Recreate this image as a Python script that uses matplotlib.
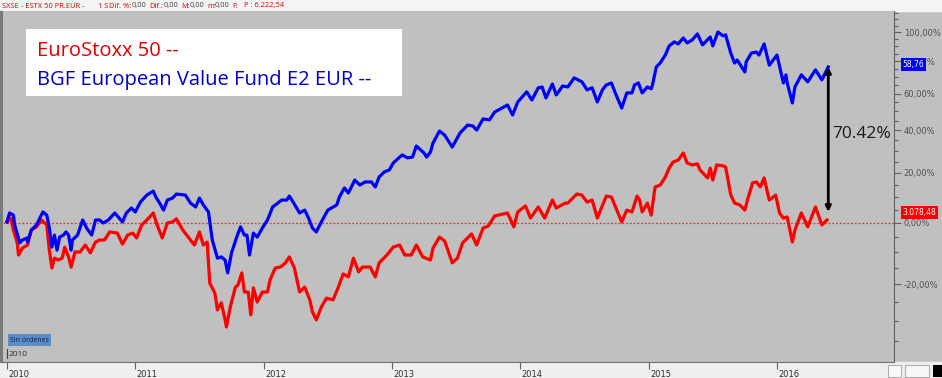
import matplotlib
matplotlib.use("Agg")
import matplotlib.pyplot as plt
from matplotlib.patches import Rectangle
from matplotlib.lines import Line2D
from matplotlib.ticker import FixedLocator, FixedFormatter, NullFormatter
import matplotlib.transforms as mtransforms

W, H = 942, 378

# weekly closes: decimal year / % change since start
fund_t = [2010.00, 2010.02, 2010.05, 2010.06, 2010.10, 2010.12, 2010.16, 2010.16, 2010.19, 2010.23,
          2010.28, 2010.31, 2010.33, 2010.35, 2010.37, 2010.39, 2010.41, 2010.44, 2010.46, 2010.48,
          2010.50, 2010.51, 2010.55, 2010.59, 2010.62, 2010.66, 2010.69, 2010.72, 2010.75, 2010.79,
          2010.84, 2010.90, 2010.93, 2010.97, 2011.00, 2011.04, 2011.09, 2011.14, 2011.16, 2011.19,
          2011.22, 2011.25, 2011.29, 2011.32, 2011.39, 2011.43, 2011.47, 2011.50, 2011.53, 2011.57,
          2011.60, 2011.64, 2011.67, 2011.70, 2011.72, 2011.75, 2011.79, 2011.82, 2011.85, 2011.87,
          2011.89, 2011.92, 2011.95, 2011.99, 2012.03, 2012.07, 2012.11, 2012.14, 2012.18, 2012.20,
          2012.23, 2012.28, 2012.32, 2012.35, 2012.38, 2012.41, 2012.45, 2012.50, 2012.57, 2012.59,
          2012.63, 2012.66, 2012.71, 2012.75, 2012.79, 2012.84, 2012.87, 2012.90, 2012.94, 2012.98,
          2013.01, 2013.08, 2013.12, 2013.16, 2013.19, 2013.25, 2013.27, 2013.30, 2013.32, 2013.37,
          2013.41, 2013.47, 2013.53, 2013.59, 2013.63, 2013.66, 2013.71, 2013.76, 2013.80, 2013.90,
          2013.94, 2013.98, 2014.05, 2014.09, 2014.14, 2014.17, 2014.20, 2014.25, 2014.28, 2014.33,
          2014.37, 2014.42, 2014.48, 2014.52, 2014.56, 2014.60, 2014.64, 2014.67, 2014.71, 2014.74,
          2014.79, 2014.83, 2014.87, 2014.89, 2014.92, 2014.95, 2014.99, 2015.02, 2015.03, 2015.06,
          2015.09, 2015.13, 2015.16, 2015.20, 2015.23, 2015.27, 2015.30, 2015.34, 2015.38, 2015.42,
          2015.48, 2015.50, 2015.54, 2015.58, 2015.60, 2015.64, 2015.67, 2015.69, 2015.75, 2015.76,
          2015.80, 2015.84, 2015.86, 2015.90, 2015.94, 2016.00, 2016.05, 2016.07, 2016.08, 2016.12,
          2016.14, 2016.19, 2016.24, 2016.30, 2016.35, 2016.40]
fund_pct = [0.4, 3.7, 2.9, -0.7, -7.0, -6.0, -5.3, -6.7, -2.5, -0.7,
            4.1, 2.9, -1.8, -8.4, -4.3, -9.4, -5.0, -4.3, -3.2, -4.3,
            -9.4, -6.0, -4.3, 1.1, -1.8, -4.3, 1.1, 1.1, 0.0, 1.1,
            3.7, 0.4, 3.7, 5.6, 4.1, 7.9, 10.7, 12.3, 9.9, 7.5,
            4.8, 8.7, 9.5, 11.1, 10.7, 7.5, 6.0, 9.5, 6.8, 4.1,
            -6.0, -12.0, -11.6, -12.6, -16.6, -10.3, -5.0, -1.4, -4.3, -4.3,
            -11.0, -3.6, -5.0, -1.8, 1.1, 6.0, 7.5, 8.7, 8.7, 10.3,
            7.9, 3.7, 4.8, 1.8, -1.8, -3.2, 0.4, 4.8, 6.8, 9.9,
            13.6, 11.5, 16.9, 14.8, 16.1, 16.1, 14.0, 18.2, 20.4, 21.3,
            24.4, 28.1, 26.7, 27.1, 32.3, 29.0, 27.1, 29.5, 33.8, 39.7,
            37.7, 31.8, 38.7, 42.8, 42.3, 40.2, 46.0, 45.5, 49.7, 53.6,
            48.1, 55.3, 61.1, 56.4, 63.5, 64.0, 57.6, 65.8, 59.3, 64.6,
            64.0, 69.5, 67.1, 62.3, 63.5, 55.3, 62.3, 65.2, 66.4, 60.5,
            51.9, 60.5, 60.5, 65.2, 66.4, 60.5, 64.0, 62.9, 65.2, 76.4,
            78.9, 84.2, 90.4, 93.2, 91.8, 96.0, 92.5, 94.6, 98.9, 91.1,
            96.7, 90.4, 100.3, 97.5, 98.2, 85.5, 78.9, 80.9, 73.2, 79.6,
            85.5, 86.2, 84.2, 91.8, 77.5, 84.2, 66.4, 71.4, 66.4, 54.7,
            64.0, 71.4, 67.1, 74.5, 68.3, 76.4]

index_t = [2010.00, 2010.03, 2010.05, 2010.08, 2010.09, 2010.12, 2010.16, 2010.19, 2010.23, 2010.27,
           2010.31, 2010.33, 2010.35, 2010.37, 2010.40, 2010.43, 2010.45, 2010.48, 2010.50, 2010.53,
           2010.57, 2010.61, 2010.65, 2010.69, 2010.72, 2010.76, 2010.80, 2010.86, 2010.90, 2010.94,
           2010.98, 2011.01, 2011.05, 2011.09, 2011.14, 2011.17, 2011.21, 2011.25, 2011.29, 2011.32,
           2011.37, 2011.43, 2011.46, 2011.50, 2011.53, 2011.56, 2011.58, 2011.62, 2011.64, 2011.67,
           2011.70, 2011.71, 2011.74, 2011.78, 2011.80, 2011.83, 2011.85, 2011.88, 2011.90, 2011.92,
           2011.95, 2011.99, 2012.03, 2012.05, 2012.09, 2012.13, 2012.17, 2012.20, 2012.24, 2012.28,
           2012.32, 2012.36, 2012.38, 2012.41, 2012.45, 2012.49, 2012.54, 2012.58, 2012.62, 2012.66,
           2012.70, 2012.74, 2012.77, 2012.83, 2012.87, 2012.90, 2012.96, 2013.01, 2013.06, 2013.10,
           2013.15, 2013.19, 2013.24, 2013.30, 2013.32, 2013.37, 2013.41, 2013.47, 2013.51, 2013.55,
           2013.62, 2013.66, 2013.71, 2013.75, 2013.80, 2013.90, 2013.95, 2013.98, 2014.04, 2014.08,
           2014.14, 2014.19, 2014.25, 2014.28, 2014.35, 2014.37, 2014.44, 2014.48, 2014.52, 2014.56,
           2014.60, 2014.67, 2014.71, 2014.79, 2014.83, 2014.87, 2014.91, 2014.93, 2014.95, 2014.99,
           2015.02, 2015.05, 2015.09, 2015.13, 2015.16, 2015.19, 2015.23, 2015.27, 2015.30, 2015.34,
           2015.38, 2015.40, 2015.46, 2015.48, 2015.50, 2015.53, 2015.58, 2015.60, 2015.64, 2015.67,
           2015.71, 2015.75, 2015.77, 2015.81, 2015.84, 2015.87, 2015.90, 2015.94, 2015.99, 2016.02,
           2016.05, 2016.08, 2016.12, 2016.14, 2016.19, 2016.24, 2016.30, 2016.35, 2016.39]
index_pct = [0.4, 1.8, -2.5, -7.0, -11.0, -8.7, -7.7, -2.5, -1.4, 1.1,
             -0.7, -9.4, -15.1, -12.0, -12.6, -12.0, -8.4, -11.6, -14.8, -10.0,
             -10.0, -7.7, -10.3, -6.7, -6.0, -6.0, -3.2, -3.6, -7.4, -4.3,
             -3.6, -5.3, -0.7, 1.1, 3.7, -0.7, -5.3, 0.0, 0.4, 1.5,
             -2.5, -6.0, -7.7, -3.2, -7.7, -6.7, -19.6, -22.5, -27.1, -25.2,
             -29.7, -31.5, -26.3, -20.8, -20.2, -16.6, -22.2, -22.2, -28.4, -21.0,
             -25.0, -22.2, -22.2, -18.7, -15.1, -14.8, -13.5, -11.6, -15.1, -22.2,
             -20.8, -24.4, -27.6, -29.7, -26.3, -23.9, -24.4, -21.0, -16.9, -17.8,
             -12.0, -16.3, -14.8, -14.8, -17.8, -13.5, -11.0, -8.4, -7.7, -11.0,
             -11.0, -7.7, -11.6, -12.6, -8.7, -5.0, -6.3, -13.5, -12.0, -7.0,
             -3.9, -7.7, -1.8, -1.1, 2.6, 3.7, -1.4, 4.1, 6.4, 1.8,
             6.0, 1.8, 8.7, 5.6, 7.5, 7.5, 11.1, 10.7, 7.9, 8.7,
             1.8, 10.3, 9.9, 0.4, 4.8, 4.1, 10.3, 8.7, 4.1, 7.5,
             2.9, 14.0, 14.8, 18.2, 22.1, 24.8, 25.7, 29.0, 24.4, 23.5,
             24.0, 21.3, 17.8, 22.1, 16.9, 23.5, 23.1, 22.6, 10.7, 7.5,
             6.8, 4.8, 8.7, 15.7, 16.1, 14.0, 17.8, 8.7, 10.7, 3.7,
             1.8, 2.2, -6.7, -2.5, 3.7, -1.4, 6.0, -0.7, 1.1]

years = [2010, 2011, 2012, 2013, 2014, 2015, 2016]
y_major_pct = [-40, -20, 0, 20, 40, 60, 80, 100]
gap_top, gap_bottom, gap_label = 76.4, 4.1, "70.42%"
header = [("SXSE - ESTX 50 PR.EUR -", 2), ("1 S", 98), ("Dif. %:", 109), ("0,00", 132),
          ("Dif.:", 149), ("0,00", 164), ("M:", 181), ("0,00", 190), ("m:", 207),
          ("0,00", 215), ("F:", 232), ("P : 6.222,54", 244)]


def to_level(p):
    return 1 + p / 100.0


def px(x, y, w=0, h=0):
    # pixel box (top-left origin) -> figure fraction
    return x / W, 1 - (y + h) / H, w / W, h / H


def fig_rect(x, y, w, h, **kw):
    x0, y0, w0, h0 = px(x, y, w, h)
    return Rectangle((x0, y0), w0, h0, transform=fig.transFigure, **kw)


fig = plt.figure(figsize=(W / 100, H / 100), dpi=100, facecolor="#c0c0c0")

# frame pieces of the trading-platform window
fig.patches.append(fig_rect(0, 0, W, 11, color="#f4f4f4", zorder=-1))
fig.patches.append(fig_rect(0, 362, W, 16, color="#efefef", zorder=-1))
fig.patches.append(fig_rect(0, 11, 3, 351, color="#7a7a7a", zorder=-1))

ax = fig.add_axes([3 / W, 16 / H, 891 / W, 351 / H])
ax.set_facecolor("#c0c0c0")
ax.set_yscale("log")

ax.plot(index_t, [to_level(v) for v in index_pct], color="#ff0000", lw=2.3, zorder=3)
ax.plot(fund_t, [to_level(v) for v in fund_pct], color="#0000ff", lw=2.3, zorder=3)
ax.axhline(1.0, color="#f03030", lw=0.9, ls=(0, (1.5, 1.5)), zorder=2)

ax.set_xlim(2009.969, 2016.912)
ax.set_ylim(0.6032, 2.1618)

ax.yaxis.tick_right()
ax.yaxis.set_major_locator(FixedLocator([to_level(p) for p in y_major_pct]))
ax.yaxis.set_major_formatter(FixedFormatter([f"{p:.2f}%".replace(".", ",") for p in y_major_pct]))
ax.yaxis.set_minor_locator(FixedLocator([to_level(p) for p in range(-40, 120, 5)]))
ax.yaxis.set_minor_formatter(NullFormatter())
ax.tick_params(axis="y", which="major", length=5, width=0.8, color="#606060",
               labelsize=6, labelcolor="#505050", pad=2)
ax.tick_params(axis="y", which="minor", length=3, width=0.8, color="#606060")

ax.set_xticks(years)
ax.set_xticklabels([str(y) for y in years])
ax.tick_params(axis="x", which="major", length=5, width=0.8, color="#606060",
               labelsize=6, labelcolor="#303030", pad=1)
ax.tick_params(axis="x", which="minor", length=0)
shift = mtransforms.ScaledTranslation(1.5 / 100, 0, fig.dpi_scale_trans)
for lab in ax.get_xticklabels():
    lab.set_horizontalalignment("left")
    lab.set_transform(lab.get_transform() + shift)

for side in ["left", "top"]:
    ax.spines[side].set_visible(False)
ax.spines["right"].set_color("#606060")
ax.spines["bottom"].set_color("#707070")

# spread annotation
ax.annotate("", xy=(fund_t[-1], to_level(gap_top)), xytext=(fund_t[-1], to_level(gap_bottom)),
            arrowprops=dict(arrowstyle="<|-|>", color="black", lw=2, mutation_scale=8,
                            shrinkA=0, shrinkB=0), zorder=4)
ax.text(fund_t[-1] + 0.03, to_level((gap_top + gap_bottom) / 2 - 2), gap_label,
        fontsize=12.5, family="Open Sans", color="#1a1a1a", va="center", ha="left", zorder=4)

# last value tags on the right axis (they sit over the 80% / 0% labels, as in the source)
tagx = mtransforms.blended_transform_factory(ax.transAxes, ax.transData)
ax.text(1.0095, to_level(fund_pct[-1]) * 1.01, "58,76", transform=tagx, fontsize=5.5, color="white",
        va="center", ha="left", clip_on=False, zorder=6,
        bbox=dict(boxstyle="square,pad=0.25", fc="#0000ff", ec="none"))
ax.text(1.0095, to_level(index_pct[-1]) * 1.027, "3.078,48", transform=tagx, fontsize=5.5,
        color="white", va="center", ha="left", clip_on=False, zorder=6,
        bbox=dict(boxstyle="square,pad=0.25", fc="#ff0000", ec="none"))

# legend box
fig.add_artist(fig_rect(26, 29, 376, 67, fc="white", ec="none", zorder=5))
fig.text(37 / W, 1 - 56 / H, "EuroStoxx 50 --", fontsize=14.5, family="Open Sans", color="#e00000",
         va="baseline", ha="left", zorder=6)
fig.text(37 / W, 1 - 85 / H, "BGF European Value Fund E2 EUR --", fontsize=14.5, family="Open Sans",
         color="#0000cc", va="baseline", ha="left", zorder=6)

# header bar
for txt, xpos in header:
    col = "#404040" if txt == "0,00" else "#e00000"
    fig.text(xpos / W, 1 - 6 / H, txt, fontsize=5.4, family="Open Sans", color=col,
             va="center", ha="left")

# "Sin órdenes" badge and small year marker
fig.text(10 / W, 1 - 340 / H, "Sin órdenes", fontsize=5, family="Open Sans", color="#102040",
         va="center", ha="left", bbox=dict(boxstyle="square,pad=0.3", fc="#5b8cc8", ec="none"))
fig.text(9 / W, 1 - 354 / H, "2010", fontsize=6, family="Open Sans", color="#303030",
         va="center", ha="left")
fig.add_artist(Line2D([7 / W, 7 / W], [1 - 349 / H, 1 - 358 / H], color="#404040", lw=0.8))

# small widgets bottom-right
fig.add_artist(fig_rect(888, 365, 13, 12, fc="#f8f8f8", ec="#b0b0b0", lw=0.8))
fig.add_artist(fig_rect(905, 365, 24, 12, fc="#f8f8f8", ec="#b0b0b0", lw=0.8))
fig.add_artist(fig_rect(933, 365, 9, 12, fc="black", ec="none"))

fig.savefig("out.png", dpi=100, facecolor=fig.get_facecolor())
